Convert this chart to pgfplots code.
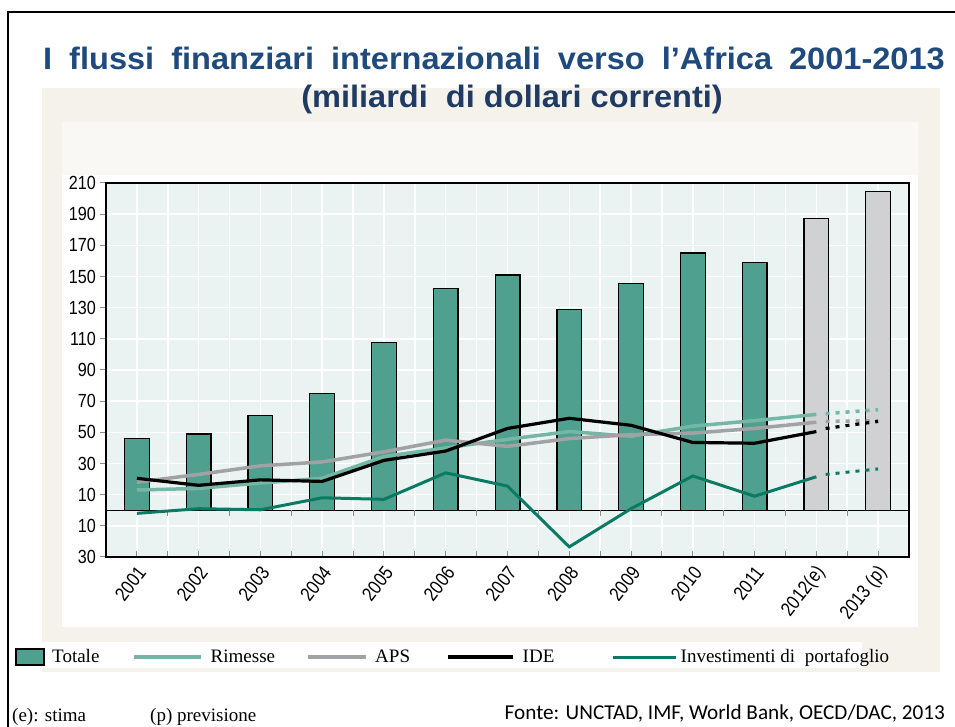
\documentclass[border=0pt]{standalone}
\usepackage{pgfplots}
\pgfplotsset{compat=1.18}
\usepackage{fontspec}
\setmainfont{Liberation Serif}
\newfontfamily\titlefont[FakeStretch=1.05]{Liberation Sans}
\newfontfamily\narrowfont[FakeStretch=0.85]{Liberation Sans}
\newfontfamily\fontefont{Carlito}
\definecolor{bg}{HTML}{EAF3F1}
\definecolor{bartot}{HTML}{4FA08F}
\definecolor{bargray}{HTML}{D0D1D3}
\definecolor{rim}{HTML}{74B7A6}
\definecolor{aps}{HTML}{A2A2A4}
\definecolor{inv}{HTML}{0A7A64}
\definecolor{titleblue}{HTML}{1F4A7E}
\definecolor{subblue}{HTML}{1F3B63}
\definecolor{tickgray}{HTML}{8A8A8A}
\definecolor{beige}{HTML}{F5F2EC}
\definecolor{lightbeige}{HTML}{FAF8F5}
\begin{document}
\begin{tikzpicture}
\useasboundingbox (0pt,0pt) rectangle (955pt,727pt);
% background bands
\fill[beige] (42pt,55pt) rectangle (940pt,639pt);
\fill[lightbeige] (62pt,552pt) rectangle (918pt,605pt);
\fill[white] (62pt,100pt) rectangle (918pt,552pt);
\fill[white] (42pt,59pt) rectangle (862pt,85pt);
\draw[line width=2pt] (8pt,0pt) -- (8pt,715pt) -- (955pt,715pt);
\node[anchor=base, text=titleblue, font=\titlefont\bfseries\fontsize{31}{34}\selectfont, inner sep=0pt] at (494pt,657pt) {\spaceskip=17pt I flussi finanziari internazionali verso l’Africa 2001-2013};
\node[anchor=base, text=subblue, font=\titlefont\bfseries\fontsize{31}{32}\selectfont, inner sep=0pt] at (512pt,619pt) {(miliardi\ \ di dollari correnti)};
\node[anchor=base west, font=\fontsize{19}{22}\selectfont, inner sep=0pt] at (12pt,5pt) {(e): stima};
\node[anchor=base west, font=\fontsize{19}{22}\selectfont, inner sep=0pt] at (150pt,5pt) {(p) previsione};
\node[anchor=base east, font=\fontefont\fontsize{21.2}{24}\selectfont, inner sep=0pt] at (945pt,7pt) {Fonte: UNCTAD, IMF, World Bank, OECD/DAC, 2013};
\begin{axis}[
  at={(106pt,170pt)}, anchor=south west,
  scale only axis, width=803pt, height=374pt,
  xmin=-0.5, xmax=12.5, ymin=-30, ymax=210,
  axis background/.style={fill=bg},
  axis line style={line width=2.5pt},
  xtick={0,1,2,3,4,5,6,7,8,9,10,11,12},
  xticklabels={2001,2002,2003,2004,2005,2006,2007,2008,2009,2010,2011,2012(e),2013 (p)},
  minor xtick={-0.5,0.5,1.5,2.5,3.5,4.5,5.5,6.5,7.5,8.5,9.5,10.5,11.5,12.5},
  ytick={-30,-10,10,30,50,70,90,110,130,150,170,190,210},
  yticklabels={30,10,10,30,50,70,90,110,130,150,170,190,210},
  grid=both,
  major grid style={white, line width=1.5pt},
  minor grid style={white, line width=1.5pt},
  xtick pos=bottom, ytick pos=left,
  xtick align=inside, ytick align=outside,
  major tick length=6pt, minor tick length=6pt,
  every tick/.style={tickgray, line width=1pt},
  every minor tick/.style={tickgray, line width=1pt},
  yticklabel style={font=\narrowfont\fontsize{19}{20}\selectfont, inner sep=0pt, xshift=-4pt},
  xticklabel style={font=\narrowfont\fontsize{19.5}{20}\selectfont, inner sep=0pt, xshift=5pt, yshift=-12pt, rotate=52, anchor=east},
  legend columns=5,
  legend cell align=left,
  legend style={at={(axis description cs:-0.1133,-0.2674)}, anchor=west, draw=none, fill=none, inner sep=0pt,
    font=\fontsize{19}{22}\selectfont, nodes={inner sep=0pt},
    /tikz/every odd column/.append style={column sep=7.5pt},
    /tikz/every even column/.append style={column sep=0pt}},
]
% zero line
\addplot[black, line width=1.2pt, forget plot] coordinates {(-0.5,0) (12.5,0)};
\addplot[ycomb, tickgray, line width=1pt, no marks, forget plot] coordinates {
(0.5,-3.5) (1.5,-3.5) (2.5,-3.5) (3.5,-3.5) (4.5,-3.5) (5.5,-3.5) (6.5,-3.5) (7.5,-3.5) (8.5,-3.5) (9.5,-3.5) (10.5,-3.5) (11.5,-3.5)};
% Totale
\addplot[ybar, bar width=0.4, fill=bartot, draw=black, line width=1.3pt, forget plot] coordinates {
(0,46) (1,49) (2,61) (3,75) (4,107.5) (5,142.5) (6,151) (7,129) (8,145.5) (9,165) (10,159)};
\addplot[ybar, bar width=0.4, fill=bargray, draw=black, line width=1.1pt, forget plot] coordinates {
(11,187) (12,204.5)};
% Rimesse
\addplot[rim, line width=3.5pt, forget plot] coordinates {
(0,13) (1,14) (2,17.5) (3,20.5) (4,34.5) (5,40) (6,45.5) (7,50.5) (8,47.5) (9,54) (10,57.5) (11,61.5)};
\addplot[rim, line width=3.5pt, dash pattern=on 4pt off 6pt, forget plot] coordinates {(11.15,62) (12,64.5)};
% APS
\addplot[aps, line width=3.5pt, forget plot] coordinates {
(0,18) (1,23) (2,28.5) (3,31) (4,37.5) (5,45) (6,41) (7,46) (8,48.5) (9,49.5) (10,52.5) (11,56.5)};
\addplot[aps, line width=3.5pt, dash pattern=on 4pt off 6pt, forget plot] coordinates {(11.15,57) (12,57.5)};
% IDE
\addplot[black, line width=3.2pt, forget plot] coordinates {
(0,20.5) (1,16) (2,19.5) (3,18.5) (4,32) (5,38) (6,52.5) (7,59) (8,54.5) (9,43.5) (10,43) (11,50.5)};
\addplot[black, line width=3.2pt, dash pattern=on 4pt off 6pt, forget plot] coordinates {(11.15,52.5) (12,57)};
% Investimenti di portafoglio
\addplot[inv, line width=3pt, forget plot] coordinates {
(0,-2) (1,1) (2,0.3) (3,8) (4,7) (5,24) (6,15.5) (7,-23.5) (8,1) (9,22) (10,9) (11,21.5)};
\addplot[inv, line width=3pt, dash pattern=on 4pt off 6pt, forget plot] coordinates {(11.15,23) (12,26.5)};
% legend
\addlegendimage{legend image code/.code={\draw[fill=bartot,draw=black,line width=1.5pt] (0pt,-8pt) rectangle (28pt,8pt);}}
\addlegendentry{\makebox[80pt][l]{Totale}}
\addlegendimage{legend image code/.code={\draw[rim,line width=4pt] (0pt,0pt) -- (67pt,0pt);}}
\addlegendentry{\makebox[95pt][l]{Rimesse}}
\addlegendimage{legend image code/.code={\draw[aps,line width=4pt] (0pt,0pt) -- (58pt,0pt);}}
\addlegendentry{\makebox[71pt][l]{APS}}
\addlegendimage{legend image code/.code={\draw[black,line width=4pt] (0pt,0pt) -- (65pt,0pt);}}
\addlegendentry{\makebox[89pt][l]{IDE}}
\addlegendimage{legend image code/.code={\draw[inv,line width=3pt] (0pt,0pt) -- (63pt,0pt);}}
\addlegendentry{\hspace*{-4.5pt}Investimenti di\ \ portafoglio}
\end{axis}
\end{tikzpicture}
\end{document}
